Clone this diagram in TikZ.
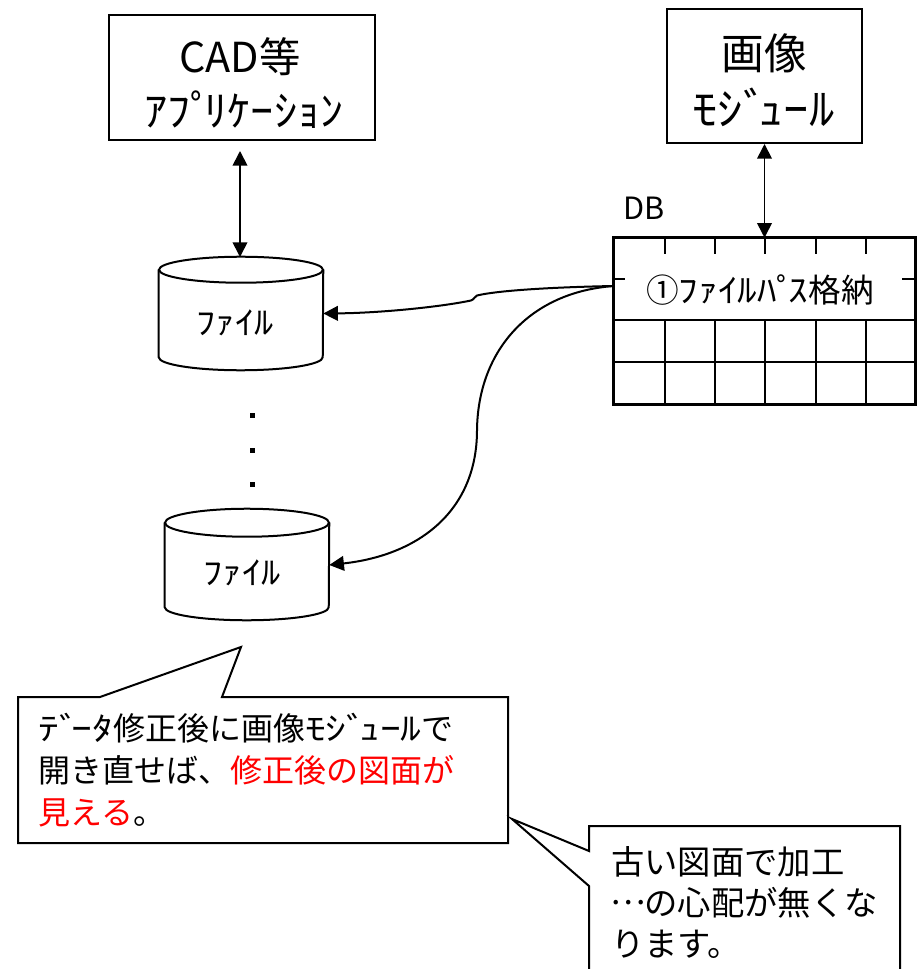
\documentclass[tikz,border=0pt]{standalone}
\usepackage{fontspec}
\setmainfont{Noto Sans CJK JP}
\usepackage{graphicx}
\usetikzlibrary{arrows.meta}
\newcommand{\hwk}[2][1.2]{\scalebox{#1}[1]{#2}}
\newcommand{\dk}{\kern-0.2em}
\newcommand{\fsz}[2]{\fontsize{#1}{#2}\selectfont}
\newcommand{\midell}{\makebox[1em][c]{\raisebox{0.33em}{…}}}
\def\px{0.75pt}
\begin{document}
\begin{tikzpicture}[x=0.75pt,y=-0.75pt,
  box/.style={draw, line width=1.5pt, fill=white, inner sep=0pt},
  lbl/.style={inner sep=0pt, align=center},
  shp/.style={line width=1.5pt},
  gridl/.style={line width=2.2pt},
  dbl/.style={{Triangle[length=11pt,width=11pt]}-{Triangle[length=11pt,width=11pt]}, line width=1.3pt},
  cur/.style={line width=1.5pt, -{Triangle[length=11pt,width=11pt]}},
  callst/.style={draw, line width=1.5pt, fill=white, line join=miter},
  dotsq/.style={fill=black, inner sep=0pt, minimum size=5*\px},
  cylnode/.style={inner sep=0pt, minimum width=164*\px},
]
\useasboundingbox (0,0) rectangle (919,969);
\clip (0,0) rectangle (919,969);

% CAD box
\node[box, minimum width=266*\px, minimum height=125*\px] (cad) at (242,77.5) {};
\node[lbl, font=\fsz{31pt}{34pt}] (cadt1) at (240,57) {CAD等};
\node[lbl, font=\fsz{31.5pt}{34pt}] (cadt2) at (244,110) {\hwk[1.1]{ｱﾌﾟ\dk ﾘｹｰｼｮﾝ}};

% image module box
\node[box, minimum width=195*\px, minimum height=134*\px] (img) at (764.5,76) {};
\node[lbl, font=\fsz{32pt}{36pt}] (imgt1) at (764.5,53) {画像};
\node[lbl, font=\fsz{33pt}{36pt}] (imgt2) at (763.5,107) {\hwk[1.15]{ﾓｼﾞ\dk ｭｰﾙ}};

% DB table
\node[lbl, font=\fsz{23pt}{26pt}] (dblabel) at (644,208) {DB};
\node[inner sep=0pt, minimum width=301*\px, minimum height=166*\px] (db) at (764.5,321) {};
\draw[gridl] (db.north west) rectangle (db.south east);
\draw[gridl] (614,320) -- (915,320);
\draw[gridl] (614,362) -- (915,362);
\foreach \cx in {665,715,765,816,866}{
  \draw[gridl] (\cx,320) -- (\cx,404);
  \draw[gridl] (\cx,238) -- (\cx,254);
}
\draw[gridl] (614,279) -- (625,279);
\draw[gridl] (902,279) -- (915,279);
\node[lbl, font=\fsz{24.5pt}{28pt}] (dbtext) at (760,290) {①\hwk{ﾌｧｲﾙﾊﾟ\dk ｽ}格納};
\coordinate (dbout) at (614,286);

% cylinders
\node[cylnode, minimum height=87*\px] (cyl1) at (241,313.5) {};
\draw[shp, fill=white] (cyl1.north west) -- (cyl1.south west) arc[start angle=180, end angle=0, x radius=82, y radius=13] -- (cyl1.north east);
\draw[shp, fill=white] (cyl1.north) ellipse[x radius=82, y radius=13];
\node[lbl, font=\fsz{24pt}{28pt}] (cyl1t) at (235,323) {\hwk{ﾌｧｲﾙ}};
\coordinate (cyl1top) at (240,257);

\node[cylnode, minimum height=84*\px] (cyl2) at (247,565) {};
\draw[shp, fill=white] (cyl2.north west) -- (cyl2.south west) arc[start angle=180, end angle=0, x radius=82, y radius=13] -- (cyl2.north east);
\draw[shp, fill=white] (cyl2.north) ellipse[x radius=82, y radius=14];
\node[lbl, font=\fsz{24pt}{28pt}] (cyl2t) at (242,573) {\hwk{ﾌｧｲﾙ}};

% dots
\node[dotsq] (d1) at (252,415) {};
\node[dotsq] (d2) at (252,450) {};
\node[dotsq] (d3) at (252,484) {};

% connectors
\coordinate (cadout) at (240,151);
\draw[dbl] (cadout) -- (cyl1top);
\draw[dbl] (img.south) -- (img.south |- db.north);
\draw[cur] (dbout) .. controls (560,287) and (500,290) .. (477,295.5)
  .. controls (474,296.5) and (475,299) .. (471,300.5)
  .. controls (440,307) and (380,313) .. (cyl1.east);
\draw[cur] (dbout) .. controls (530,292) and (478,350) .. (477,430)
  .. controls (477,510) and (420,555) .. (cyl2.east);

% callout 1
\draw[callst] (18,697) -- (100,697) -- (241,647) -- (222,697) -- (508,697) -- (508,843) -- (18,843) -- cycle;
\node[inner sep=0pt, anchor=west, align=left, font=\fsz{24pt}{31.5pt}] (note1) at (38,770)
  {\hwk[1.3]{ﾃﾞ\dk ｰﾀ}修正後に画像\hwk[1.3]{ﾓｼﾞ\dk ｭｰﾙ}で\\開き直せば、\textcolor{red}{修正後の図面が}\\\textcolor{red}{見える}。};

% callout 2
\draw[callst] (589,826) -- (900,826) -- (900,990) -- (589,990) -- (589,886) -- (512,819) -- (589,851) -- cycle;
\node[inner sep=0pt, anchor=west, align=left, font=\fsz{25pt}{30.75pt}] (note2) at (611,903)
  {古い図面で加工\\\midell の心配が無くな\\ります。};
\end{tikzpicture}
\end{document}
